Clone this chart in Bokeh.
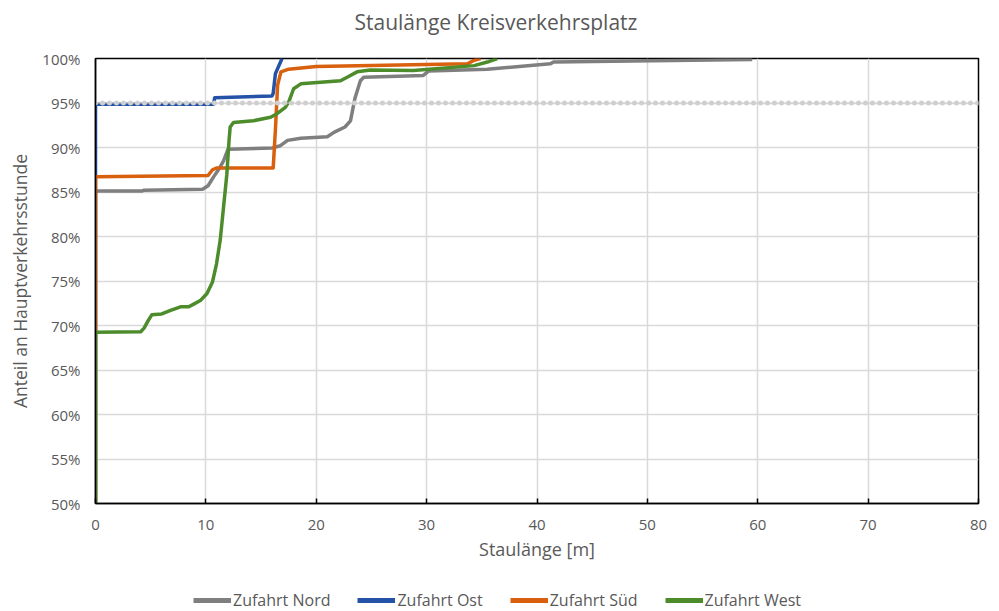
from bokeh.plotting import figure
from bokeh.models import Legend, LegendItem, PrintfTickFormatter, FixedTicker, Range1d, Title
from bokeh.layouts import column
from bokeh.embed import file_html
from bokeh.resources import INLINE

# ---- data ----
nord_x = [0, 0, 4.2, 4.4, 9.7, 10.2, 10.7, 11.2, 11.6, 12.0, 16.0, 16.75, 17.4, 18.6, 21.0, 21.6, 22.6, 23.1, 23.5, 24.0, 24.3, 29.7, 30.2, 35.5, 41.2, 41.5, 59.5]
nord_y = [50, 85.1, 85.1, 85.2, 85.3, 85.7, 86.7, 87.6, 88.5, 89.8, 89.95, 90.2, 90.8, 91.05, 91.2, 91.7, 92.3, 93.0, 95.5, 97.5, 97.9, 98.1, 98.6, 98.8, 99.4, 99.6, 99.9]

ost_x = [0, 0, 10.7, 10.8, 16.0, 16.1, 16.3, 16.9]
ost_y = [50, 94.85, 94.85, 95.6, 95.8, 96.1, 98.3, 100]

sued_x = [0, 0, 10.2, 10.6, 11.0, 16.1, 16.3, 16.5, 16.8, 17.5, 20.0, 25.0, 33.7, 34.3, 34.9]
sued_y = [50, 86.7, 86.85, 87.5, 87.7, 87.7, 92.0, 97.0, 98.5, 98.8, 99.1, 99.2, 99.4, 99.8, 100]

west_x = [0, 0, 4.1, 4.4, 4.8, 5.1, 6.0, 6.8, 7.7, 8.45, 8.9, 9.5, 10.1, 10.6, 10.96, 11.3, 11.6, 11.9, 12.1, 12.2, 12.5, 14.3, 15.85, 16.45, 17.2, 17.5, 17.95, 18.6, 22.2, 22.8, 23.7, 24.9, 28.8, 34.3, 35.5, 36.4]
west_y = [50, 69.25, 69.3, 69.7, 70.6, 71.2, 71.3, 71.7, 72.1, 72.1, 72.4, 72.8, 73.6, 74.9, 76.9, 79.6, 83.3, 87.0, 90.8, 92.3, 92.8, 93.0, 93.4, 93.8, 94.5, 95.1, 96.6, 97.15, 97.5, 97.9, 98.5, 98.7, 98.65, 99.2, 99.6, 100]

threshold_x = [0, 80]
threshold_y = [95, 95]

x_ticks = [0, 10, 20, 30, 40, 50, 60, 70, 80]
y_ticks = [50, 55, 60, 65, 70, 75, 80, 85, 90, 95, 100]

series = [
    ("Zufahrt Nord", nord_x, nord_y, "#7f7f7f"),
    ("Zufahrt Ost", ost_x, ost_y, "#2352a6"),
    ("Zufahrt Süd", sued_x, sued_y, "#d8600f"),
    ("Zufahrt West", west_x, west_y, "#4c8c2b"),
]

FONT = "Open Sans"
TXT = "#595959"

p = figure(width=991, height=575, output_backend="svg", toolbar_location=None,
           x_range=Range1d(0, 80), y_range=Range1d(50, 100),
           min_border_left=95, min_border_right=13, min_border_top=58, min_border_bottom=72,
           title=None)

# spacer between frame and title, then the title itself
spacer = Title(text=" ", text_font_size="14px", text_color="white", standoff=0)
p.add_layout(spacer, "above")
title = Title(text="Staulänge Kreisverkehrsplatz", align="left", offset=259,
              text_font=FONT, text_font_size="21px", text_font_style="normal", text_color=TXT)
p.add_layout(title, "above")

p.outline_line_color = "#000000"
p.outline_line_width = 1.5
p.background_fill_color = "white"
p.border_fill_color = "white"

# grid
p.xgrid.ticker = FixedTicker(ticks=x_ticks)
p.ygrid.ticker = FixedTicker(ticks=y_ticks)
p.grid.grid_line_color = "#d9d9d9"
p.grid.grid_line_width = 1.5

# axes
p.xaxis.ticker = FixedTicker(ticks=x_ticks)
p.yaxis.ticker = FixedTicker(ticks=y_ticks)
p.yaxis.formatter = PrintfTickFormatter(format="%d%%")
for ax in (p.xaxis[0], p.yaxis[0]):
    ax.axis_line_color = "#000000"
    ax.axis_line_width = 1.5
    ax.major_label_text_font = FONT
    ax.major_label_text_font_size = "15px"
    ax.major_label_text_color = TXT
    ax.axis_label_text_font = FONT
    ax.axis_label_text_font_style = "normal"
    ax.axis_label_text_color = TXT
    ax.minor_tick_line_color = None
p.xaxis.axis_label_text_font_size = "18px"
p.yaxis.axis_label_text_font_size = "17.5px"
p.xaxis.major_tick_in = 5
p.xaxis.major_tick_out = 0
p.xaxis.major_tick_line_color = "#000000"
p.xaxis.major_tick_line_width = 1.5
p.yaxis.major_tick_line_color = None
p.xaxis.major_label_standoff = 16
p.yaxis.major_label_standoff = 9
p.xaxis.axis_label = "Staulänge [m]"
p.yaxis.axis_label = "Anteil an Hauptverkehrsstunde"
p.xaxis.axis_label_standoff = 4
p.yaxis.axis_label_standoff = 7

for name, xs, ys, col in series:
    p.line(xs, ys, line_color=col, line_width=3.5, line_join="round")

# 95 % threshold (drawn on top)
p.line(threshold_x, threshold_y, line_color="#d4d4d4", line_width=1.2)
p.line(threshold_x, threshold_y, line_color="#cfcfcf", line_width=5, line_dash="0 7", line_cap="round")

# ---- legend strip below the chart (series drawn out of its view, only legend glyphs show) ----
lf = figure(width=991, height=36, output_backend="svg", toolbar_location=None,
            x_range=Range1d(0, 1), y_range=Range1d(0, 1),
            min_border=0, min_border_left=0, min_border_right=0, min_border_top=0, min_border_bottom=0)
lf.axis.visible = False
lf.grid.visible = False
lf.outline_line_color = None
lf.background_fill_color = "white"
lf.border_fill_color = "white"

items = []
for name, xs, ys, col in series:
    proxy = lf.line(xs, ys, line_color=col, line_width=5)
    items.append(LegendItem(label=name, renderers=[proxy]))

legend = Legend(items=items, orientation="horizontal", location=(98, 0),
                label_text_font=FONT, label_text_font_size="16px", label_text_color=TXT,
                glyph_width=38, glyph_height=14, label_standoff=2, spacing=27,
                border_line_color=None, background_fill_alpha=0, padding=0, margin=0)
lf.add_layout(legend, "center")

layout = column(p, lf, spacing=0)
open("out.html", "w").write(file_html(layout, INLINE))
